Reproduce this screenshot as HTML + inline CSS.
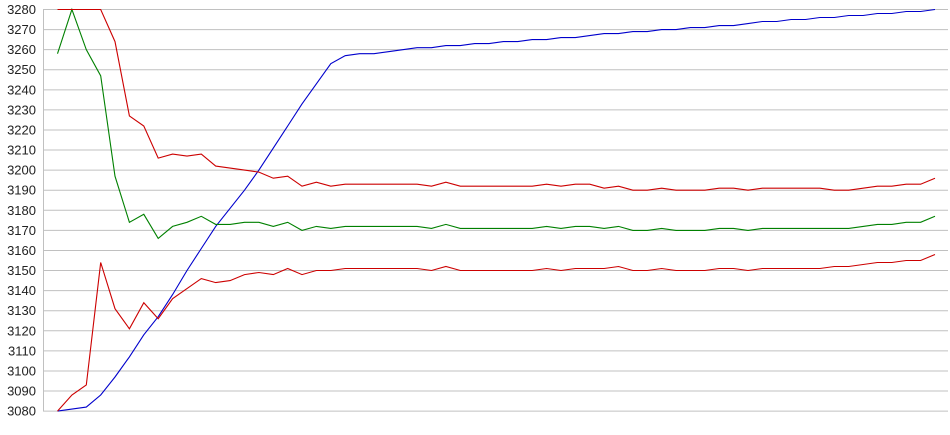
<!DOCTYPE html>
<html><head><meta charset="utf-8"><style>
html,body{margin:0;padding:0;background:#fff;}
svg{display:block;}
text{font-family:"Liberation Sans",Arial,sans-serif;font-size:13px;fill:#222;}
</style></head><body>
<svg id="c" width="950" height="435" viewBox="0 0 950 435" xmlns="http://www.w3.org/2000/svg"></svg>
<script>
var svg=document.getElementById('c');
function Y(v){return 9.5+(3280-v)*2.008;}
function X(i){return 57.5+14.385*i;}
var h='';
for(var v=3080;v<=3280;v+=10){var y=Y(v);
h+='<line x1="43" x2="948" y1="'+y+'" y2="'+y+'" stroke="#c0c0c0" stroke-width="1"/>';
h+='<text x="36" y="'+(y+4.5)+'" text-anchor="end">'+v+'</text>';}
h+='<line x1="43.5" x2="43.5" y1="9" y2="411" stroke="#c0c0c0"/>';
var ru=[3280,3280,3280,3280,3264,3227,3222,3206,3208,3207,3208,3202,3201,3200,3199,3196,3197,3192,3194,3192,3193,3193,3193,3193,3193,3193,3192,3194,3192,3192,3192,3192,3192,3192,3193,3192,3193,3193,3191,3192,3190,3190,3191,3190,3190,3190,3191,3191,3190,3191,3191,3191,3191,3191,3190,3190,3191,3192,3192,3193,3193,3196];
var g=[3258,3280,3260,3247,3197,3174,3178,3166,3172,3174,3177,3173,3173,3174,3174,3172,3174,3170,3172,3171,3172,3172,3172,3172,3172,3172,3171,3173,3171,3171,3171,3171,3171,3171,3172,3171,3172,3172,3171,3172,3170,3170,3171,3170,3170,3170,3171,3171,3170,3171,3171,3171,3171,3171,3171,3171,3172,3173,3173,3174,3174,3177];
var rl=[3080,3088,3093,3154,3131,3121,3134,3126,3136,3141,3146,3144,3145,3148,3149,3148,3151,3148,3150,3150,3151,3151,3151,3151,3151,3151,3150,3152,3150,3150,3150,3150,3150,3150,3151,3150,3151,3151,3151,3152,3150,3150,3151,3150,3150,3150,3151,3151,3150,3151,3151,3151,3151,3151,3152,3152,3153,3154,3154,3155,3155,3158];
var b=[3080,3081,3082,3088,3097,3107,3118,3127,3138,3150,3161,3172,3181,3190,3200,3211,3222,3233,3243,3253,3257,3258,3258,3259,3260];
for(var i=25;i<=61;i++)b.push(Math.round(3260+(i-24)*20/37));
function pl(a,c){var p=a.map(function(v,i){return X(i).toFixed(1)+','+Y(v).toFixed(1)}).join(' ');
return '<polyline points="'+p+'" fill="none" stroke="'+c+'" stroke-width="1.1"/>';}
h+=pl(b,'#0000cc')+pl(g,'#008000')+pl(rl,'#cc0000')+pl(ru,'#cc0000');
svg.innerHTML=h;
</script>
</body></html>
